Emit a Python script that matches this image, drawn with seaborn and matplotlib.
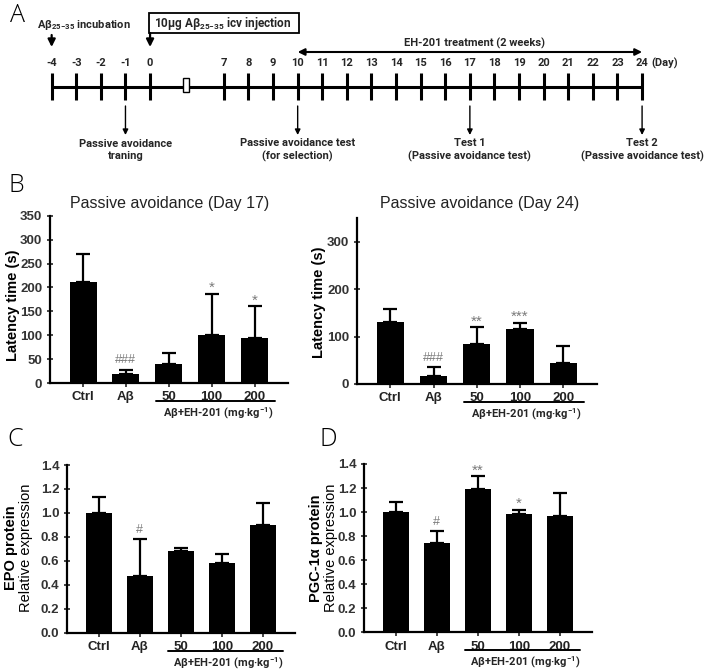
import matplotlib
matplotlib.use("Agg")
import matplotlib.pyplot as plt
import matplotlib.patches as mpatches
import numpy as np
import pandas as pd
import seaborn as sns

W, H = 709, 671

# --- data -------------------------------------------------------------
groups = ["Ctrl", "Aβ", "50", "100", "200"]

day17_mean = [212, 18, 40, 100, 95]
day17_sem = [57, 10, 22, 87, 66]
day17_sig = ["", "###", "", "*", "*"]

day24_mean = [131, 16, 84, 115, 44]
day24_sem = [27, 19, 36, 14, 36]
day24_sig = ["", "###", "**", "***", ""]

epo_mean = [1.00, 0.47, 0.68, 0.58, 0.90]
epo_sem = [0.13, 0.31, 0.03, 0.08, 0.18]
epo_sig = ["", "#", "", "", ""]

pgc_mean = [1.00, 0.74, 1.19, 0.98, 0.97]
pgc_sem = [0.08, 0.10, 0.11, 0.04, 0.19]
pgc_sig = ["", "#", "**", "*", ""]

timeline_days = [-4, -3, -2, -1, 0] + list(range(7, 25))
test_days = [-1, 10, 17, 24]
test_labels = [
    "Passive avoidance\ntraning",
    "Passive avoidance test\n(for selection)",
    "Test 1\n(Passive avoidance test)",
    "Test 2\n(Passive avoidance test)",
]
treatment_start, treatment_end = 10, 24

sns.set_style("white")
plt.rcParams["font.family"] = ["Liberation Sans", "DejaVu Sans"]

CAL = ["Roboto", "DejaVu Sans"]
SUB = r"$_{\mathregular{25{-}35}}$"


def px_axes(fig, left, right, top, bottom):
    return fig.add_axes([left / W, 1 - bottom / H, (right - left) / W, (bottom - top) / H])


def day_pos(d):
    # days 1-6 are cut out of the time line
    return d if d <= 0 else d - 4


def bar_panel(ax, means, sems, sigs, ymax, yticks, fmt):
    df = pd.DataFrame({"group": groups, "value": means})
    sns.barplot(data=df, x="group", y="value", order=groups, color="black",
                saturation=1, width=0.63, errorbar=None, linewidth=0,
                ax=ax, zorder=3)
    ax.errorbar(range(len(groups)), means, yerr=[np.zeros(len(means)), sems],
                fmt="none", ecolor="black", elinewidth=1.6, capsize=5,
                capthick=1.6, zorder=2)
    for i, (m, s, sig) in enumerate(zip(means, sems, sigs)):
        if not sig:
            continue
        hashes = "#" in sig
        ax.annotate(sig, (i, m + s), xytext=(0, 7 if hashes else 4),
                    textcoords="offset points", ha="center", va="center",
                    fontsize=9 if hashes else 11, color="#7a7a7a")
    ax.set_xlim(-0.77, 4.78)
    ax.set_ylim(0, ymax)
    ax.set_yticks(yticks)
    ax.set_yticklabels([fmt.format(t) for t in yticks])
    ax.set_xlabel("")
    ax.set_ylabel("")
    for side in ["top", "right"]:
        ax.spines[side].set_visible(False)
    for side in ["left", "bottom"]:
        ax.spines[side].set_linewidth(1.6)
        ax.spines[side].set_color("black")
    ax.tick_params(axis="y", direction="inout", length=5, width=1.2,
                   labelsize=9.5, labelcolor="#333333", pad=3, left=True)
    ax.tick_params(axis="x", direction="out", length=3, width=1.2,
                   labelsize=9.5, labelcolor="#222222", pad=3, bottom=True)
    for lab in ax.get_xticklabels() + ax.get_yticklabels():
        lab.set_fontweight("bold")
    tr = ax.get_xaxis_transform()
    ax.plot([1.7, 4.48], [-0.108, -0.108], transform=tr, color="black",
            lw=1.4, clip_on=False)
    ax.text(3.15, -0.18, r"Aβ+EH-201 (mg·kg$^{\mathregular{-1}}$)", transform=tr,
            ha="center", va="center", fontsize=8, family=CAL, weight="bold")


fig = plt.figure(figsize=(W / 100, H / 100), dpi=100)

# --- panel A: time line ----------------------------------------------
axA = fig.add_axes([0, 1 - 180 / H, 1, 180 / H])
axA.set_xlim(-6.10, 22.72)
axA.set_ylim(180, 0)
axA.axis("off")

pos = [day_pos(d) for d in timeline_days]
axA.plot([min(pos), max(pos)], [86.7, 86.7], color="black", lw=2.2)
axA.vlines(pos, 73, 100, color="black", lw=2.2)
for d, p in zip(timeline_days, pos):
    axA.text(p, 63, str(d), ha="center", va="center", fontsize=8,
             family=CAL, weight="bold")
axA.text(max(pos) + 0.38, 63, "(Day)", ha="left", va="center", fontsize=8,
         family=CAL, weight="bold")
axA.add_patch(mpatches.Rectangle((1.33, 78), 0.26, 14, fc="white",
                                 ec="black", lw=1.0, zorder=3))

head = dict(arrowstyle="-|>", color="black", lw=1.6, mutation_scale=11,
            shrinkA=0, shrinkB=0)
axA.annotate("", xy=(day_pos(-4), 47), xytext=(day_pos(-4), 35), arrowprops=head)
axA.annotate("", xy=(day_pos(0), 47), xytext=(day_pos(0), 33), arrowprops=head)
axA.text(-4.6, 25, "Aβ" + SUB + " incubation", ha="left",
         va="center", fontsize=8, family=CAL, weight="bold")
axA.add_patch(mpatches.Rectangle((day_pos(0) - 0.05, 13), 6.1, 20, fill=False,
                                 ec="black", lw=1.3))
axA.text(day_pos(0) + 2.97, 23, "10μg Aβ" + SUB + " icv injection",
         ha="center", va="center", fontsize=8.5, family=CAL, weight="bold")

axA.annotate("", xy=(day_pos(treatment_start), 52), xytext=(day_pos(treatment_end), 52),
             arrowprops=dict(arrowstyle="<|-|>", color="black", lw=1.5,
                             mutation_scale=10, shrinkA=0, shrinkB=0))
axA.text((day_pos(treatment_start) + day_pos(treatment_end)) / 2 + 0.2, 43,
         "EH-201 treatment (2 weeks)", ha="center", va="center", fontsize=8,
         family=CAL, weight="bold")

thin = dict(arrowstyle="-|>", color="black", lw=1.0, mutation_scale=8,
            shrinkA=0, shrinkB=0)
for d, lab in zip(test_days, test_labels):
    axA.annotate("", xy=(day_pos(d), 135), xytext=(day_pos(d), 106), arrowprops=thin)
    axA.text(day_pos(d), 150, lab, ha="center", va="center", fontsize=8,
             family=CAL, weight="bold", linespacing=1.3)

# --- panels B-D ---------------------------------------------------------
axB1 = px_axes(fig, 50, 288, 215.7, 383)
bar_panel(axB1, day17_mean, day17_sem, day17_sig, 350, list(range(0, 351, 50)), "{:.0f}")
axB2 = px_axes(fig, 357, 597, 218, 384)
bar_panel(axB2, day24_mean, day24_sem, day24_sig, 350, [0, 100, 200, 300], "{:.0f}")
axC = px_axes(fig, 67, 295, 465, 632.7)
bar_panel(axC, epo_mean, epo_sem, epo_sig, 1.4, list(np.arange(0, 1.41, 0.2)), "{:.1f}")
axD = px_axes(fig, 364, 592, 464, 632.3)
bar_panel(axD, pgc_mean, pgc_sem, pgc_sig, 1.4, list(np.arange(0, 1.41, 0.2)), "{:.1f}")


def ftext(x, y, s, **kw):
    fig.text(x / W, 1 - y / H, s, **kw)


ftext(170, 203, "Passive avoidance (Day 17)", ha="center", va="center",
      fontsize=11.5, color="#222222")
ftext(480, 203, "Passive avoidance (Day 24)", ha="center", va="center",
      fontsize=11.5, color="#222222")

ylab = dict(rotation=90, ha="center", va="center", fontsize=10.5, color="black")
ftext(13, 305, "Latency time (s)", weight="bold", **ylab)
ftext(319, 302, "Latency time (s)", weight="bold", **ylab)
ftext(11, 548, "EPO protein", weight="bold", **ylab)
ftext(26, 548, "Relative expression", **ylab)
ftext(316, 548, "PGC-1α protein", weight="bold", **ylab)
ftext(331, 548, "Relative expression", **ylab)

letter = dict(ha="center", va="center", fontsize=18, color="black",
              family=["Open Sans", "DejaVu Sans"], weight="light")
ftext(17, 15, "A", **letter)
ftext(16, 186, "B", **letter)
ftext(15, 440, "C", **letter)
ftext(328, 440, "D", **letter)

fig.savefig("out.png", dpi=100)
